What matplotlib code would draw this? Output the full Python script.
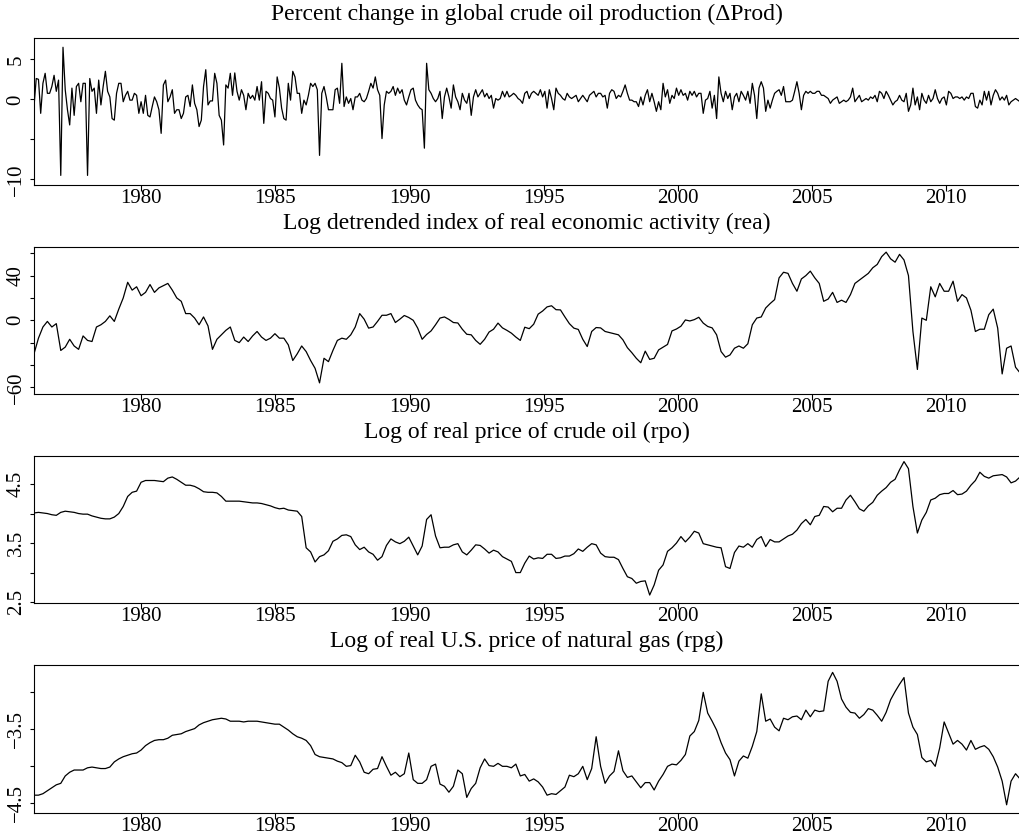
import numpy as np
import matplotlib
matplotlib.use('Agg')
import matplotlib.pyplot as plt

plt.rcParams['font.family'] = ['Liberation Serif', 'DejaVu Serif']

# periodo da amostra
START = 1976.0
END = 2012.75

# Percent change in global crude oil production (mensal)
prod = [
    -0.9, 2.6, 2.5, -1.75, 2.0, 3.25, 0.75, 0.75, 1.6, 3.0,
    1.0, 2.4, -9.5, 6.5, 1.2, -1.3, -3.2, 1.4, -2.0, 1.6,
    2.0, -0.3, 2.0, 2.0, -9.5, 2.6, 1.0, 1.4, -1.75, 2.4,
    -0.7, 1.6, 3.5, 1.0, 0.3, -2.4, -2.6, 0.75, 2.0, 2.0,
    -0.3, 0.5, 1.0, -0.1, -0.1, 0.75, 0.5, -1.75, -0.3, -1.75,
    0.5, -2.0, -2.2, -0.9, 0.3, -0.3, -1.3, -4.25, 1.8, 2.4,
    -0.3, 0.3, 1.2, -1.75, -1.3, -1.3, -2.4, -1.75, 0.3, 0.5,
    -0.9, 1.8, -0.5, -1.3, -3.4, -2.6, 1.6, 3.7, -0.7, -0.2,
    -0.2, 3.25, 2.0, -2.0, -2.6, -5.7, 1.8, 1.4, 3.25, 0.5,
    3.3, 1.0, -0.1, 1.2, 0.5, -1.3, 0.75, 0.1, 0.5, -0.1,
    1.6, -0.1, 2.2, -3.0, 1.0, 0.75, 0.1, -0.1, -2.2, 2.8,
    1.4, -1.1, -2.4, -2.6, 2.0, -0.1, 3.5, 2.8, 0.75, 0.75,
    -1.75, -0.1, -0.7, 0.5, 2.0, 1.6, 2.0, 1.2, -7.0, 0.75,
    1.6, 0.3, -1.3, -1.3, -1.3, 1.2, 1.4, -0.5, 4.5, -0.9,
    0.3, -0.5, 0.1, -1.3, 0.3,
    0.3, 0.75, -0.1, -0.3, 0.1, 1.0, 2.0, 1.4, 2.8, 1.2,
    0.5, -4.9, -0.7, 1.0, 0.75, 1.0, 1.6, 0.5, 1.4, 0.75,
    1.2, -0.1, -0.7, 0.3, 1.2, 1.4, -0.1, -0.7, -1.1, -1.3,
    -6.1, 4.5, 1.2, 0.75, 0.1, -0.3, 0.1, 1.0, -2.4, 0.3,
    1.4, 0.3, -1.1, 1.8, 0.3, -0.3, -1.3, 0.75, -0.1, -0.5,
    0.75, -2.0, 0.3, 1.2, 0.3, 0.75, 1.2, 0.3, 0.75, 0.1,
    0.5, -1.1, 0.1, -0.1, 0.1, 1.0, 0.3, 1.0, 0.3, 0.5,
    0.75, 0.5, 0.1, -0.1, -0.5, 0.75, 1.0, 0.1, 0.75, 1.0,
    0.75, 0.5, 1.2, 0.3, 1.0, -1.1, 1.2, 0.1, -1.3, 1.4,
    0.75, 0.5, 0.1, -0.1, 0.75, 0.3, 0.1, 0.3, 0.5, -0.3,
    0.1, 0.5, 0.1, -0.3, 0.5, 0.75, 1.0, 0.3, 0.75, 0.75,
    0.3, 0.5, -1.1, 0.75, 1.2, 1.0, 0.1, 0.5, 0.3, 1.0,
    1.8, 0.75, -0.1, -0.1, -0.3, -0.3, -0.9, 0.3, -0.7, 0.5,
    1.2, -0.3, 0.75, -0.3, -1.5, -0.3, -1.3, 2.0, 0.3, 1.2,
    -0.5, 0.5, 0.1, 1.4, 0.5, 1.2, 0.5, 0.75, -0.1, 1.0,
    0.5, 1.0, 0.3, 0.75,
    0.75, -1.75, -0.1, 0.1, 1.0, -1.1, 0.5, -2.4, 2.8, 0.75,
    -0.3, 1.0, 0.1, 0.75, -1.3, 0.3, 0.75, -0.3, 1.0, 0.5,
    -0.1, 1.0, -0.5, 2.0, 0.5, -2.4, 1.4, 2.2, 1.4, -1.5,
    -0.1, -1.1, -0.1, 0.75, 1.0, 1.2, 0.5, 1.6, -0.3, -0.3,
    -0.3, -0.1, 1.0, 2.2, 0.75, -1.3, 0.5, 1.0, 0.75, 1.0,
    0.75, 0.75, 1.0, 1.0, 0.5, 0.5, 0.3, 0.1, -0.5, -0.1,
    0.1, 0.3, -0.5, -0.3, -0.1, -0.3, -0.1, 0.3, 1.4, -0.3,
    0.1, 0.5, -0.3, -0.1, 0.1, -0.1, 0.3, 0.1, 0.5, -0.3,
    1.0, 0.75, 0.1, 1.0, 0.5, -0.1, -0.7, -0.3, -0.1, 0.5,
    -0.1, -0.3, 0.75, -1.5, -0.7, 1.4, -0.7, 0.3, -1.3, 0.75,
    -0.1, -0.5, 0.5, -0.3, 0.1, 1.2, 0.1, -0.5, 0.1, 0.3,
    -0.7, 1.0, 0.75, 0.1, 0.3, 0.3, 0.1, 0.3, -0.1, 0.3,
    0.1, 0.75, 0.75, -0.9, -1.1, -0.1, -0.7, 1.0, -0.1, 1.0,
    -0.7, 0.5, 1.2, 0.75, -0.1, 0.3, -0.1, 0.5, -0.7, -0.3,
    -0.1, 0.1, -0.1, -0.3,
]

# Log detrended index of real economic activity (bimestral)
rea = [
    -30, -16, -6, -1, -6, -3, -27, -24, -17, -23,
    -26, -14, -18, -19, -6, -4, -1, 4, -1, 10,
    20, 34, 27, 30, 22, 25, 32, 25, 29, 31,
    33, 27, 20, 17, 6, 6, 2, -4, 3, -5,
    -26, -17, -13, -9, -6, -18, -20, -15, -19, -14,
    -10, -15, -18, -16, -12, -16, -16, -22, -36, -30,
    -23, -28, -36, -43, -56, -34, -37, -27, -18, -16,
    -17, -13, -6,
    6, 1, -7, -6, -1, 4.5, 4.5, 6, -2, 1,
    4.3, 2.5, 0, -7, -17, -12.7, -9.5, -4, 2, 3,
    0.8, -2, -2.4, -8, -12.5, -13, -18, -21.5, -17, -10.5,
    -8, -2.5, -6.8, -9, -11.5, -15, -18, -6.2, -7.5, -3.5,
    5.5, 8.3, 12, 13, 9.5, 9.3, 3, -3, -7, -8.2,
    -17, -23.5, -10, -6.5, -6.8, -10, -11, -12, -13, -17.5,
    -24.5, -29, -34, -38, -27.6, -35, -34, -26.5, -24, -21.6,
    -9.5, -7.8, -5.3, 0.3, -0.6, 0.6, 2.7,
    -2.5, -5.5, -6.8, -13, -28, -33, -31, -25, -23, -25,
    -21, -4, 2, 3, 11, 15, 18.5, 38, 43, 42,
    33, 26, 37, 40, 44, 38, 33, 17, 19, 25,
    16, 18, 16, 23, 33, 36, 39, 42, 47, 50,
    57, 61, 55, 52, 59, 54, 40, -10, -44, 2,
    0, 30, 21, 33, 26, 26, 35, 17, 23, 20,
    9, -10, -8, -8, 5, 10, -7, -48, -25, -23,
    -42, -47,
]

# Log of real price of crude oil (bimestral)
rpo = [
    4.01, 4.02, 4.01, 4.0, 3.98, 3.97, 4.02, 4.04, 4.03, 4.02,
    4.0, 3.99, 3.99, 3.96, 3.94, 3.92, 3.91, 3.91, 3.94, 4.0,
    4.12, 4.29, 4.36, 4.38, 4.53, 4.56, 4.56, 4.56, 4.55, 4.54,
    4.6, 4.62, 4.58, 4.53, 4.48, 4.48, 4.46, 4.42, 4.37, 4.36,
    4.36, 4.35, 4.29, 4.21, 4.21, 4.21, 4.21, 4.2, 4.19, 4.18,
    4.18, 4.17, 4.15, 4.13, 4.1, 4.08, 4.09, 4.06, 4.05, 4.04,
    3.95, 3.42, 3.35, 3.18, 3.27, 3.3, 3.37, 3.53, 3.57, 3.63,
    3.64, 3.61, 3.47,
    3.39, 3.43, 3.35, 3.31, 3.21, 3.27, 3.46, 3.57, 3.52, 3.49,
    3.53, 3.6, 3.45, 3.3, 3.45, 3.9, 3.98, 3.62, 3.42, 3.43,
    3.43, 3.47, 3.49, 3.35, 3.3, 3.38, 3.47, 3.46, 3.4, 3.33,
    3.38, 3.35, 3.27, 3.23, 3.19, 3.0, 3.0, 3.16, 3.28, 3.23,
    3.25, 3.24, 3.31, 3.31, 3.24, 3.25, 3.28, 3.28, 3.32, 3.4,
    3.36, 3.43, 3.49, 3.47, 3.33, 3.27, 3.26, 3.26, 3.22, 3.07,
    2.93, 2.9, 2.82, 2.85, 2.86, 2.62, 2.79, 3.04, 3.13, 3.36,
    3.42, 3.5, 3.61, 3.52, 3.6, 3.7, 3.67,
    3.49, 3.47, 3.45, 3.43, 3.42, 3.1, 3.07, 3.34, 3.45, 3.43,
    3.49, 3.43, 3.56, 3.61, 3.44, 3.56, 3.52, 3.52, 3.57, 3.62,
    3.65, 3.72, 3.83, 3.9, 3.81, 3.95, 3.97, 4.12, 4.11, 4.03,
    4.09, 4.09, 4.23, 4.31, 4.2, 4.08, 4.04, 4.13, 4.19, 4.31,
    4.38, 4.44, 4.53, 4.58, 4.74, 4.88, 4.76, 4.12, 3.67, 3.89,
    4.02, 4.23, 4.26, 4.32, 4.34, 4.34, 4.39, 4.32, 4.33, 4.38,
    4.48, 4.56, 4.7, 4.63, 4.6, 4.64, 4.65, 4.66, 4.62, 4.52,
    4.55, 4.62,
]

# Log of real U.S. price of natural gas (bimestral)
rpg = [
    -4.39, -4.39, -4.37, -4.33, -4.29, -4.25, -4.23, -4.13, -4.08, -4.05,
    -4.05, -4.05, -4.02, -4.01, -4.02, -4.03, -4.03, -4.01, -3.94, -3.9,
    -3.87, -3.85, -3.83, -3.82, -3.78, -3.72, -3.68, -3.65, -3.64, -3.64,
    -3.62, -3.58, -3.57, -3.56, -3.53, -3.51, -3.49, -3.44, -3.41, -3.39,
    -3.37, -3.36, -3.35, -3.36, -3.39, -3.39, -3.39, -3.4, -3.39, -3.39,
    -3.39, -3.4, -3.41, -3.42, -3.43, -3.43, -3.47, -3.51, -3.56, -3.6,
    -3.62, -3.65, -3.72, -3.84, -3.87, -3.88, -3.89, -3.9, -3.93, -3.95,
    -4.0, -3.99, -3.85,
    -3.94, -4.08, -4.1, -4.04, -4.03, -3.87, -4.0, -4.12, -4.08, -4.14,
    -4.1, -3.82, -4.18, -4.23, -4.23, -4.18, -4.0, -3.97, -4.24, -4.27,
    -4.35, -4.27, -4.05, -4.1, -4.42, -4.3, -4.23, -4.02, -3.9, -3.99,
    -4.0, -3.96, -4.0, -4.0, -4.02, -3.97, -4.13, -4.11, -4.2, -4.17,
    -4.21, -4.28, -4.39, -4.37, -4.38, -4.33, -4.28, -4.12, -4.14, -4.1,
    -4.0, -4.18, -4.03, -3.6, -4.0, -4.23, -4.13, -4.07, -3.79, -4.06,
    -4.15, -4.13, -4.21, -4.29, -4.22, -4.22, -4.32, -4.2, -4.11, -4.0,
    -3.97, -3.98, -3.92, -3.84, -3.59, -3.53, -3.38,
    -3.0, -3.28, -3.39, -3.51, -3.68, -3.82, -3.91, -4.13, -3.93, -3.86,
    -3.89, -3.73, -3.53, -3.02, -3.39, -3.36, -3.47, -3.52, -3.35, -3.37,
    -3.33, -3.32, -3.37, -3.24, -3.33, -3.24, -3.26, -3.25, -2.85, -2.73,
    -2.85, -3.09, -3.2, -3.27, -3.28, -3.35, -3.3, -3.22, -3.24, -3.31,
    -3.39, -3.27, -3.1, -2.99, -2.89, -2.8, -3.28, -3.47, -3.57, -3.88,
    -3.94, -3.92, -4.0, -3.75, -3.4, -3.55, -3.7, -3.65, -3.7, -3.78,
    -3.65, -3.77, -3.74, -3.72, -3.77, -3.87, -4.01, -4.2, -4.52, -4.2,
    -4.1, -4.17,
]

series = [prod, rea, rpo, rpg]

titles = [
    'Percent change in global crude oil production (\u0394Prod)',
    'Log detrended index of real economic activity (rea)',
    'Log of real price of crude oil (rpo)',
    'Log of real U.S. price of natural gas (rpg)',
]

years = [1980, 1985, 1990, 1995, 2000, 2005, 2010]

# ticks do eixo y (so alguns recebem rotulo, como no R)
yticks = [
    [-10, -5, 0, 5],
    [-60, -40, -20, 0, 20, 40, 60],
    [2.5, 3.0, 3.5, 4.0, 4.5],
    [-4.5, -4.0, -3.5, -3.0],
]
ylabels = [
    ['\u221210', '', '0', '5'],
    ['\u221260', '', '', '0', '', '40', ''],
    ['2.5', '', '3.5', '', '4.5'],
    ['\u22124.5', '', '\u22123.5', ''],
]
ylims = [(-10.7, 7.66), (-65.7, 65.6), (2.49, 4.98), (-4.627, -2.63)]

# posicao dos paineis em pixels (topo, base)
W, H = 1020, 835
boxes = [(38, 185), (247, 393.7), (455.7, 602.7), (665, 812.7)]

fig = plt.figure(figsize=(10.2, 8.35), dpi=100)

for i in range(4):
    top, bot = boxes[i]
    ax = fig.add_axes([34 / W, 1 - bot / H, 1 - 34 / W, (bot - top) / H])

    vals = np.array(series[i])
    x = np.linspace(START, END, len(vals))
    ax.plot(x, vals, color='black', linewidth=0.9)

    ax.set_xlim(START, END)
    ax.set_ylim(ylims[i])
    ax.set_xticks(years)
    ax.set_xticklabels([str(y) for y in years])
    ax.set_yticks(yticks[i])
    ax.set_yticklabels(ylabels[i], rotation=90, va='center')

    ax.tick_params(axis='x', direction='out', length=4, pad=-1, labelsize=15, width=0.8)
    ax.tick_params(axis='y', direction='out', length=3, pad=3, labelsize=15, width=0.8)
    ax.spines['right'].set_visible(False)
    for s in ['left', 'top', 'bottom']:
        ax.spines[s].set_linewidth(0.8)

    ax.set_title(titles[i], fontsize=17, pad=13)

fig.savefig('out.png', dpi=100)
